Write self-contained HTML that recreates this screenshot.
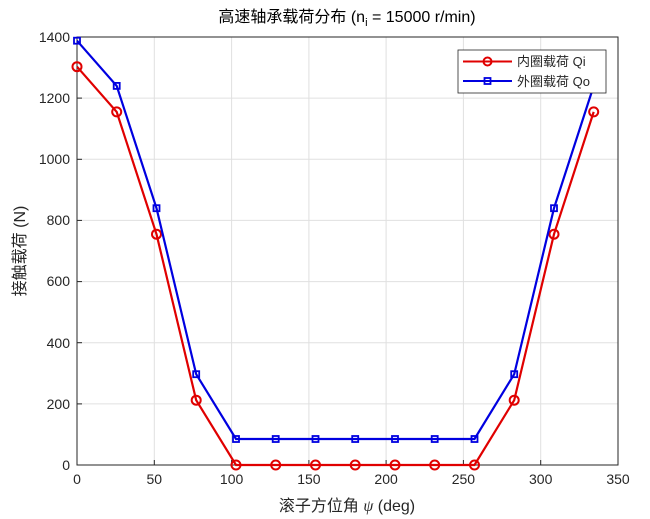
<!DOCTYPE html><html><head><style>body{margin:0;background:#fff}svg{display:block}</style></head><body>
<svg width="650" height="519" xmlns="http://www.w3.org/2000/svg" font-family="Liberation Sans, Noto Sans CJK SC, sans-serif">
<rect width="650" height="519" fill="#fff"/>
<g stroke="#e0e0e0" stroke-width="1">
<line x1="154.3" y1="37" x2="154.3" y2="465"/><line x1="231.6" y1="37" x2="231.6" y2="465"/><line x1="308.9" y1="37" x2="308.9" y2="465"/><line x1="386.1" y1="37" x2="386.1" y2="465"/><line x1="463.4" y1="37" x2="463.4" y2="465"/><line x1="540.7" y1="37" x2="540.7" y2="465"/>
<line x1="77" y1="403.9" x2="618" y2="403.9"/><line x1="77" y1="342.7" x2="618" y2="342.7"/><line x1="77" y1="281.6" x2="618" y2="281.6"/><line x1="77" y1="220.4" x2="618" y2="220.4"/><line x1="77" y1="159.3" x2="618" y2="159.3"/><line x1="77" y1="98.1" x2="618" y2="98.1"/>
</g>
<rect x="77" y="37" width="541" height="428" fill="none" stroke="#262626" stroke-width="1"/>
<g stroke="#262626">
<line x1="154.3" y1="465" x2="154.3" y2="460"/><line x1="231.6" y1="465" x2="231.6" y2="460"/><line x1="308.9" y1="465" x2="308.9" y2="460"/><line x1="386.1" y1="465" x2="386.1" y2="460"/><line x1="463.4" y1="465" x2="463.4" y2="460"/><line x1="540.7" y1="465" x2="540.7" y2="460"/>
<line x1="77" y1="403.9" x2="82" y2="403.9"/><line x1="77" y1="342.7" x2="82" y2="342.7"/><line x1="77" y1="281.6" x2="82" y2="281.6"/><line x1="77" y1="220.4" x2="82" y2="220.4"/><line x1="77" y1="159.3" x2="82" y2="159.3"/><line x1="77" y1="98.1" x2="82" y2="98.1"/>
</g>
<g font-size="14" fill="#262626" text-anchor="middle">
<text x="77" y="484">0</text><text x="154.3" y="484">50</text><text x="231.6" y="484">100</text><text x="308.9" y="484">150</text><text x="386.1" y="484">200</text><text x="463.4" y="484">250</text><text x="540.7" y="484">300</text><text x="618" y="484">350</text>
</g>
<g font-size="14" fill="#262626" text-anchor="end">
<text x="70" y="470">0</text><text x="70" y="409">200</text><text x="70" y="348">400</text><text x="70" y="286">600</text><text x="70" y="225">800</text><text x="70" y="164">1000</text><text x="70" y="103">1200</text><text x="70" y="42">1400</text>
</g>
<text x="347" y="511" font-size="16" fill="#262626" text-anchor="middle">滚子方位角 <tspan font-style="italic" font-family="Liberation Serif, serif">ψ</tspan> (deg)</text>
<text transform="translate(25,251) rotate(-90)" font-size="16" fill="#262626" text-anchor="middle">接触载荷 (N)</text>
<text x="347" y="22" font-size="16" fill="#000" text-anchor="middle">高速轴承载荷分布 (n<tspan font-size="11" dy="4">i</tspan><tspan dy="-4"> = 15000 r/min)</tspan></text>
<polyline fill="none" stroke="#e00000" stroke-width="2.2" points="77,66.7 116.7,111.9 156.5,234.2 196.2,400.2 236,465 275.7,465 315.5,465 355.2,465 395,465 434.7,465 474.5,465 514.2,400.2 554,234.2 593.7,111.9"/>
<g fill="none" stroke="#e00000" stroke-width="2">
<circle cx="77" cy="66.7" r="4.5"/><circle cx="116.7" cy="111.9" r="4.5"/><circle cx="156.5" cy="234.2" r="4.5"/><circle cx="196.2" cy="400.2" r="4.5"/><circle cx="236" cy="465" r="4.5"/><circle cx="275.7" cy="465" r="4.5"/><circle cx="315.5" cy="465" r="4.5"/><circle cx="355.2" cy="465" r="4.5"/><circle cx="395" cy="465" r="4.5"/><circle cx="434.7" cy="465" r="4.5"/><circle cx="474.5" cy="465" r="4.5"/><circle cx="514.2" cy="400.2" r="4.5"/><circle cx="554" cy="234.2" r="4.5"/><circle cx="593.7" cy="111.9" r="4.5"/>
</g>
<polyline fill="none" stroke="#0000e0" stroke-width="2.2" points="77,40.7 116.7,85.9 156.5,208.2 196.2,374.2 236,439 275.7,439 315.5,439 355.2,439 395,439 434.7,439 474.5,439 514.2,374.2 554,208.2 593.7,85.9"/>
<g fill="none" stroke="#0000e0" stroke-width="1.8">
<rect x="74" y="37.7" width="6" height="6"/><rect x="113.7" y="82.9" width="6" height="6"/><rect x="153.5" y="205.2" width="6" height="6"/><rect x="193.2" y="371.2" width="6" height="6"/><rect x="233" y="436" width="6" height="6"/><rect x="272.7" y="436" width="6" height="6"/><rect x="312.5" y="436" width="6" height="6"/><rect x="352.2" y="436" width="6" height="6"/><rect x="392" y="436" width="6" height="6"/><rect x="431.7" y="436" width="6" height="6"/><rect x="471.5" y="436" width="6" height="6"/><rect x="511.2" y="371.2" width="6" height="6"/><rect x="551" y="205.2" width="6" height="6"/><rect x="590.7" y="82.9" width="6" height="6"/>
</g>
<rect x="458" y="50" width="148" height="43" fill="#fff" stroke="#262626" stroke-width="0.8"/>
<line x1="463" y1="61.5" x2="512" y2="61.5" stroke="#e00000" stroke-width="2"/><circle cx="487.5" cy="61.5" r="4" fill="none" stroke="#e00000" stroke-width="2"/>
<line x1="463" y1="81" x2="512" y2="81" stroke="#0000e0" stroke-width="2"/><rect x="484.5" y="78" width="6" height="6" fill="none" stroke="#0000e0" stroke-width="1.8"/>
<text x="517" y="66" font-size="13" fill="#262626">内圈载荷 Qi</text>
<text x="517" y="86" font-size="13" fill="#262626">外圈载荷 Qo</text>
</svg>
</body></html>
